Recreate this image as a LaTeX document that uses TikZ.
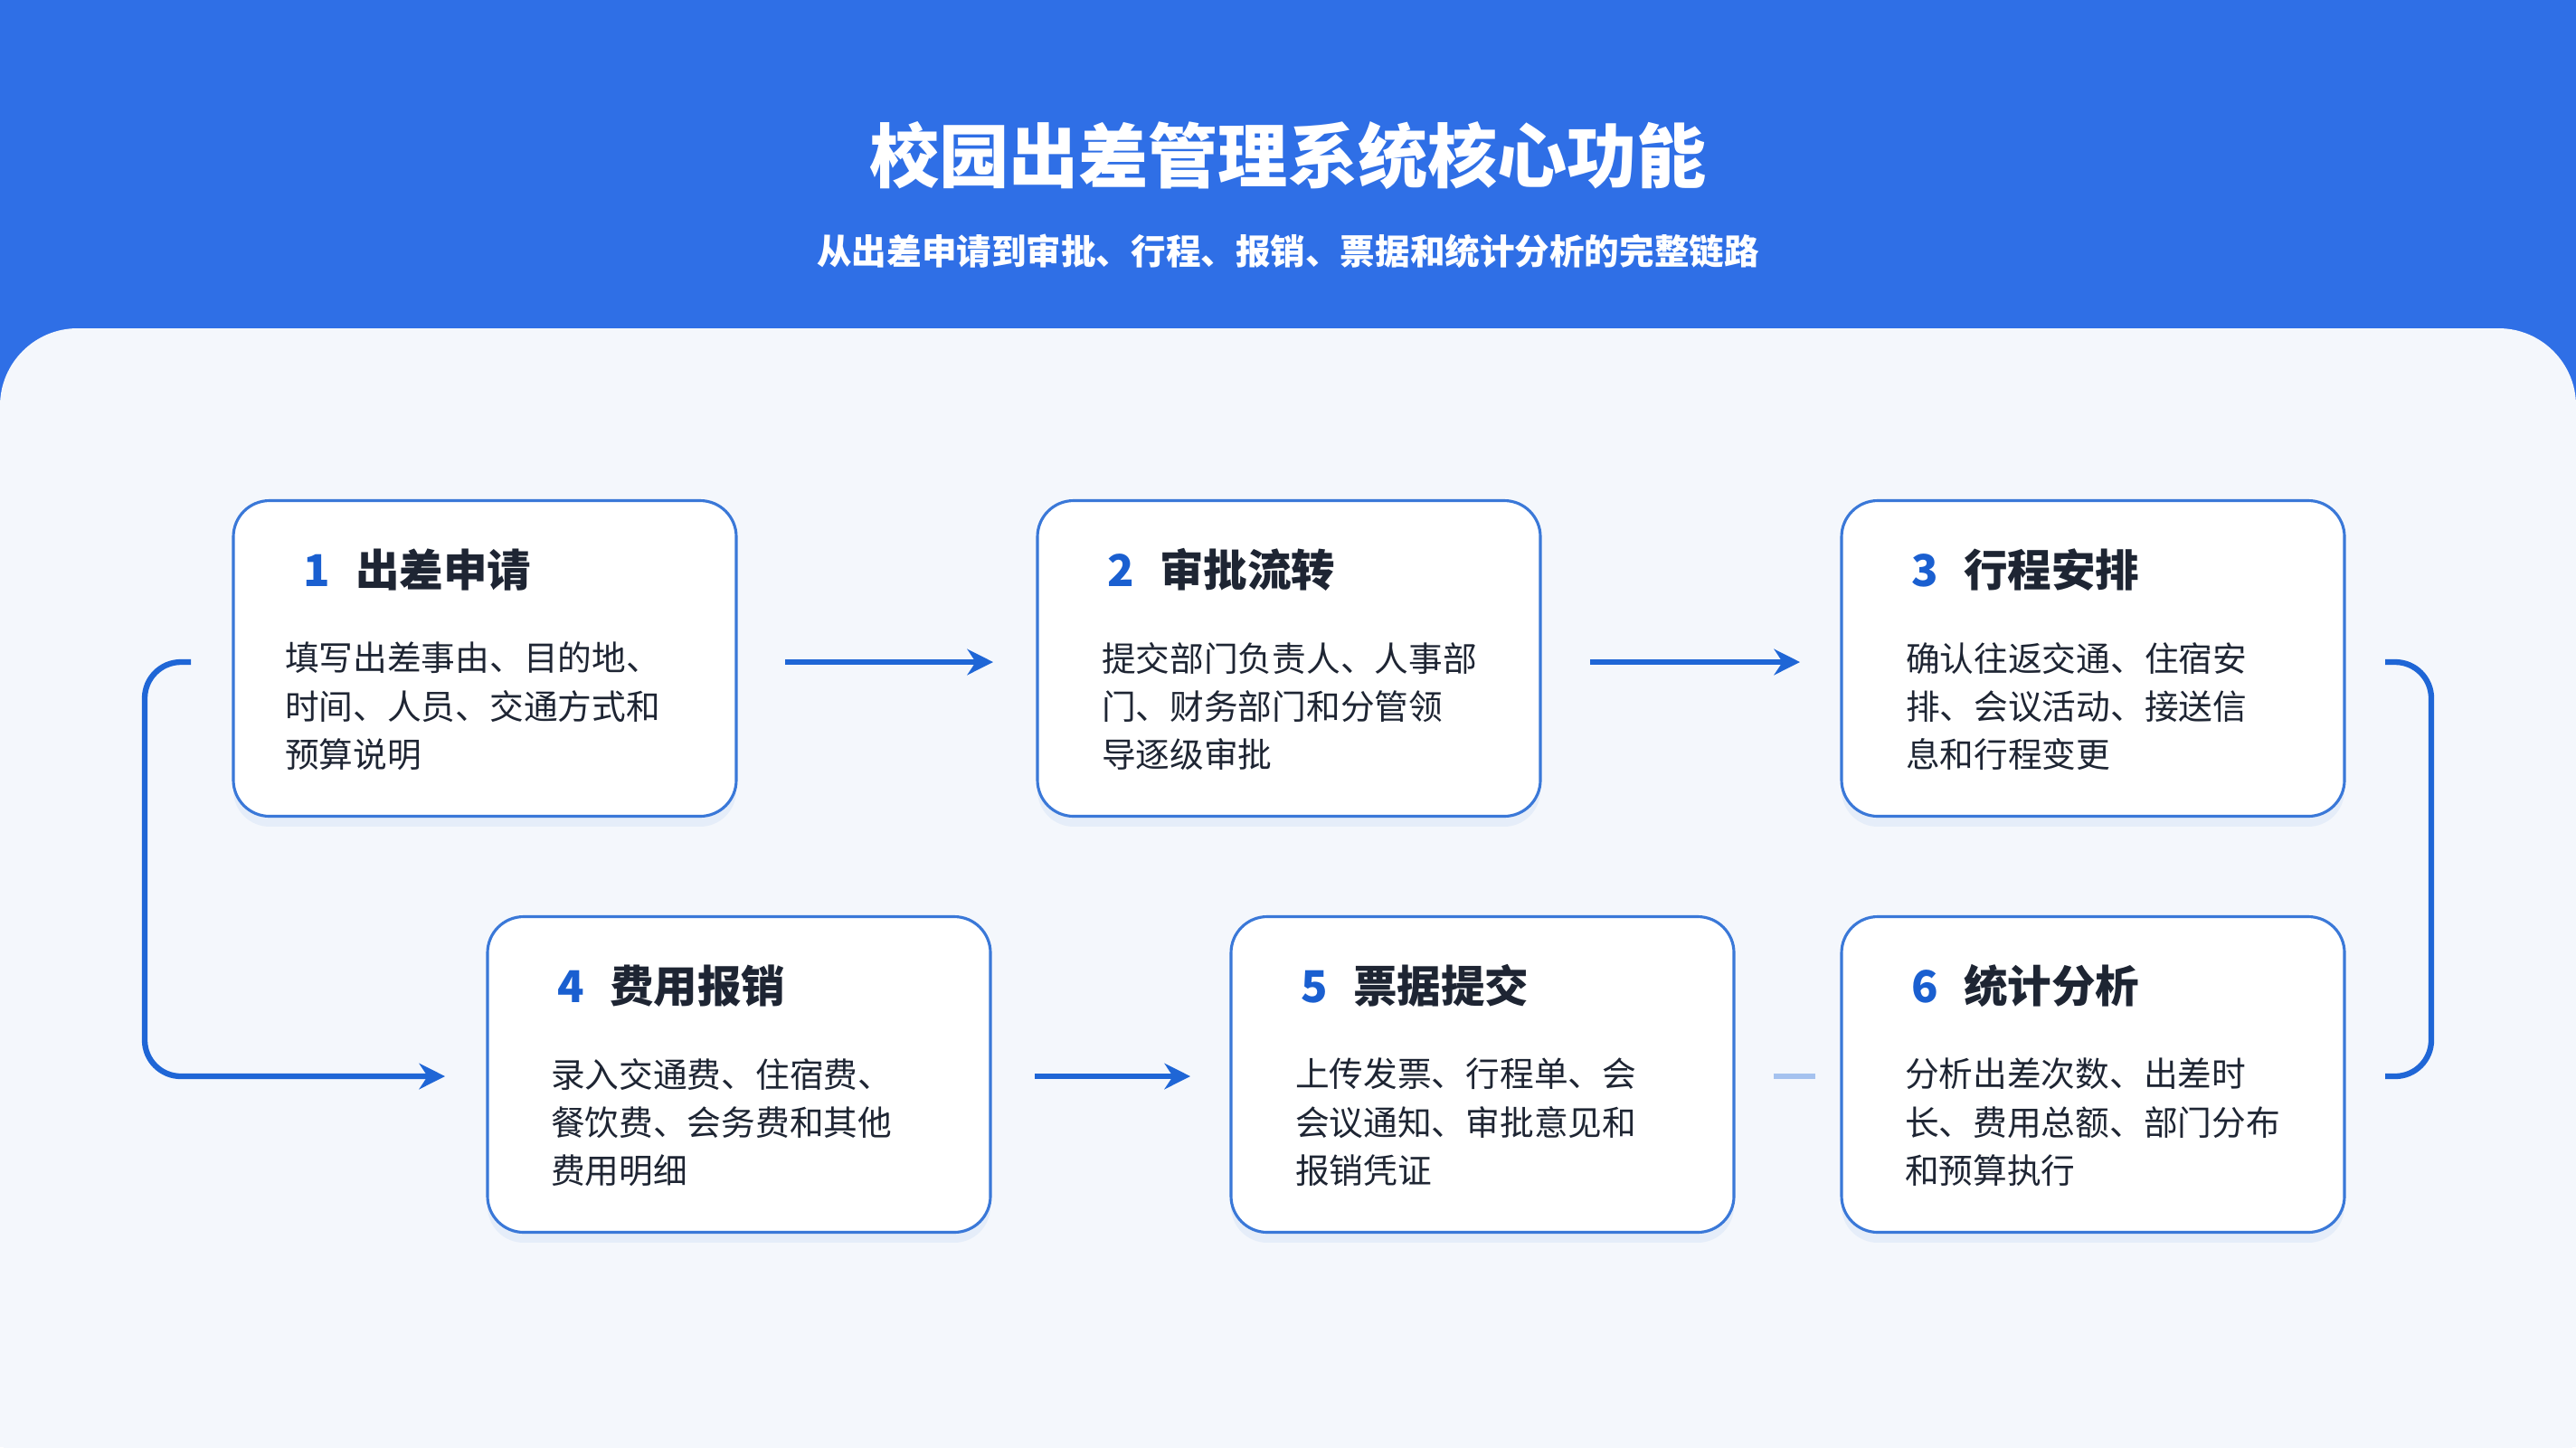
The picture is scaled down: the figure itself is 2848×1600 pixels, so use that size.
\documentclass[tikz,border=0pt]{standalone}
\usepackage{fontspec}
\setmainfont{Noto Sans CJK SC}
\usetikzlibrary{shadows,arrows.meta}
\definecolor{hdrblue}{HTML}{2F6FE6}
\definecolor{cardbg}{HTML}{F4F7FC}
\definecolor{boxline}{HTML}{3A78D8}
\definecolor{flowblue}{HTML}{1F66D6}
\definecolor{numblue}{HTML}{1A5FD0}
\definecolor{txtdark}{HTML}{1E2533}

\tikzset{
  flowbox/.style={draw=boxline, line width=1.1pt, rounded corners=14pt, fill=white,
    minimum width=556*0.35pt, minimum height=349*0.35pt,
    drop shadow={shadow xshift=0pt, shadow yshift=-4pt, opacity=0.08, fill=boxline}},
  flow/.style={draw=flowblue, line width=2.2pt, -{Stealth[length=10pt,width=10pt]}},
  head/.style={anchor=base west, font=\fontsize{17}{20}\selectfont\bfseries, text=txtdark},
  body/.style={anchor=north west, align=left, font=\fontsize{13.2}{18.6}\selectfont, text=txtdark}
}

\begin{document}
\begin{tikzpicture}[x=0.35pt, y=-0.35pt]

    \useasboundingbox (0,0) rectangle (2848,1600);
    \fill[hdrblue] (0,0) rectangle (2848,480);
    \fill[cardbg, rounded corners=30pt] (0,363) rectangle (2848,1660);
    \fill[cardbg] (0,1560) rectangle (2848,1600);

    \node (title) at (1424,172) {\fontsize{27}{30}\selectfont\bfseries\color{white}校园出差管理系统核心功能};
    \node (sub) at (1424,278) {\fontsize{13.5}{15}\selectfont\bfseries\color{white}从出差申请到审批、行程、报销、票据和统计分析的完整链路};

    \node[flowbox] (s1) at (536,728) {};
    \node[flowbox] (s2) at (1425,728) {};
    \node[flowbox] (s3) at (2314,728) {};
    \node[flowbox] (s4) at (817,1188) {};
    \node[flowbox] (s5) at (1639,1188) {};
    \node[flowbox] (s6) at (2314,1188) {};

    % headings and texts
    \node[head] (h1) at (325,648) {\textcolor{numblue}{1}\hspace{10pt}出差申请};
    \node[body] (t1) at (305,700) {填写出差事由、目的地、\\时间、人员、交通方式和\\预算说明};
    \node[head] (h2) at (1214,648) {\textcolor{numblue}{2}\hspace{10pt}审批流转};
    \node[body] (t2) at (1208,700) {提交部门负责人、人事部\\门、财务部门和分管领\\导逐级审批};
    \node[head] (h3) at (2103,648) {\textcolor{numblue}{3}\hspace{10pt}行程安排};
    \node[body] (t3) at (2097,700) {确认往返交通、住宿安\\排、会议活动、接送信\\息和行程变更};
    \node[head] (h4) at (606,1108) {\textcolor{numblue}{4}\hspace{10pt}费用报销};
    \node[body] (t4) at (599,1160) {录入交通费、住宿费、\\餐饮费、会务费和其他\\费用明细};
    \node[head] (h5) at (1428,1108) {\textcolor{numblue}{5}\hspace{10pt}票据提交};
    \node[body] (t5) at (1422,1160) {上传发票、行程单、会\\会议通知、审批意见和\\报销凭证};
    \node[head] (h6) at (2103,1108) {\textcolor{numblue}{6}\hspace{10pt}统计分析};
    \node[body] (t6) at (2096,1160) {分析出差次数、出差时\\长、费用总额、部门分布\\和预算执行};

    \coordinate (a12) at (868,732);  \coordinate (b12) at (1098,732);
    \coordinate (a23) at (1758,732); \coordinate (b23) at (1990,732);
    \coordinate (a45) at (1144,1190); \coordinate (b45) at (1316,1190);
    \coordinate (a65) at (1961,1190); \coordinate (b65) at (2007,1190);
    \coordinate (l1) at (211,732);
    \coordinate (l4) at (492,1190);
    \coordinate (r3) at (2637,732);
    \coordinate (r6) at (2637,1190);

    \draw[flow] (a12) -- (b12);
    \draw[flow] (a23) -- (b23);
    \draw[flow] (a45) -- (b45);
    \draw[flow, -, rounded corners=14pt] (r3) -| (2688,1000) |- (r6);
    \draw[flow, rounded corners=14pt] (l1) -| (160,1000) |- (l4);
    \draw[flow, -, draw=flowblue!40] (a65) -- (b65);

\end{tikzpicture}
\end{document}
